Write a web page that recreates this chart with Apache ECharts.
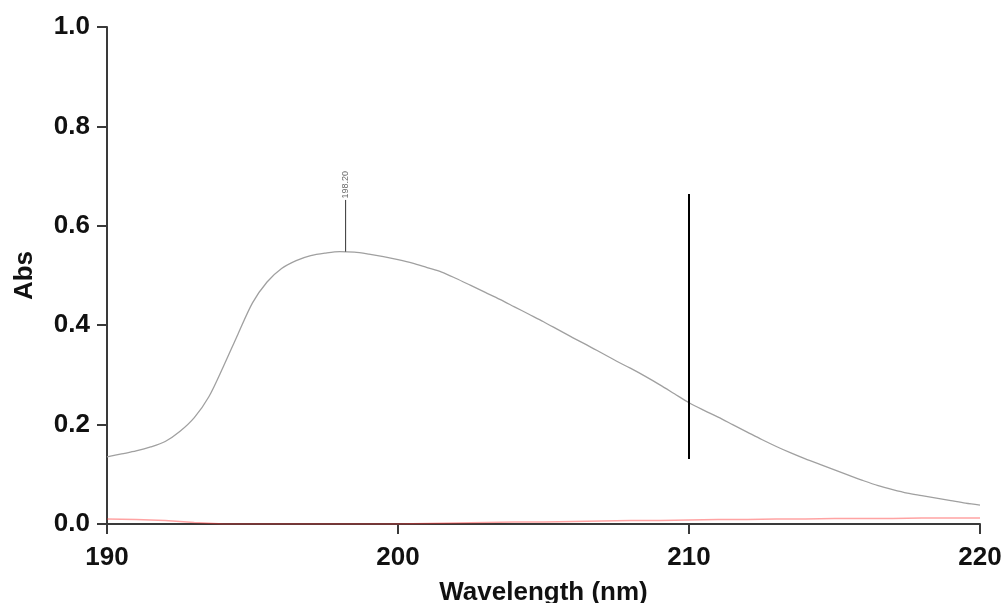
<!DOCTYPE html>
<html>
<head>
<meta charset="utf-8">
<title>Absorbance spectrum</title>
<script src="https://cdn.jsdelivr.net/npm/echarts@6/dist/echarts.min.js"></script>
<style>
  html, body { margin: 0; padding: 0; background: #fff; overflow: hidden; }
  #chart { position: absolute; left: 0; top: 0; width: 1006px; height: 603px; }
</style>
</head>
<body>
<div id="chart"></div>
<script>
// Sample spectrum: wavelength (nm) and absorbance
const wavelengths = [190.0, 190.5, 191.0, 191.5, 192.0, 192.5, 193.0, 193.5, 194.0, 194.5,
  195.0, 195.5, 196.0, 196.5, 197.0, 197.5, 198.0, 198.5, 199.0, 199.5,
  200.0, 200.5, 201.0, 201.5, 202.0, 202.5, 203.0, 203.5, 204.0, 204.5,
  205.0, 205.5, 206.0, 206.5, 207.0, 207.5, 208.0, 208.5, 209.0, 209.5,
  210.0, 210.5, 211.0, 211.5, 212.0, 212.5, 213.0, 213.5, 214.0, 214.5,
  215.0, 215.5, 216.0, 216.5, 217.0, 217.5, 218.0, 218.5, 219.0, 219.5, 220.0];
const sampleAbs = [0.135, 0.141, 0.147, 0.155, 0.166, 0.186, 0.214, 0.256, 0.317, 0.382,
  0.445, 0.487, 0.514, 0.530, 0.540, 0.545, 0.548, 0.547, 0.543, 0.538,
  0.532, 0.525, 0.516, 0.507, 0.494, 0.480, 0.466, 0.452, 0.437, 0.422,
  0.407, 0.391, 0.375, 0.360, 0.344, 0.328, 0.313, 0.297, 0.280, 0.262,
  0.244, 0.229, 0.215, 0.200, 0.185, 0.170, 0.156, 0.143, 0.131, 0.120,
  0.109, 0.098, 0.087, 0.077, 0.069, 0.062, 0.057, 0.052, 0.047, 0.042, 0.038];

// Baseline (blank) trace
const baseWavelengths = [190, 191, 192, 192.5, 193, 194, 195, 196, 197, 198, 199, 200,
  201, 202, 203, 204, 205, 206, 207, 208, 209, 210,
  211, 212, 213, 214, 215, 216, 217, 218, 219, 220];
const baseAbs = [0.010, 0.009, 0.007, 0.005, 0.003, 0.000, 0.000, 0.000, 0.000, 0.000, 0.000, 0.000,
  0.001, 0.002, 0.003, 0.004, 0.004, 0.005, 0.006, 0.007, 0.007, 0.008,
  0.009, 0.009, 0.010, 0.010, 0.011, 0.011, 0.011, 0.012, 0.012, 0.012];

// Peak pick
const peakWavelength = 198.20;
const peakAbs = 0.548;
const peakMarkerTop = 0.652;

// Cursor line
const cursorWavelength = 210;
const cursorRange = [0.131, 0.664];

// Axis ticks
const xTicks = [190, 200, 210, 220];
const yTicks = [0.0, 0.2, 0.4, 0.6, 0.8, 1.0];

const zip = (xs, ys) => xs.map((x, i) => [x, ys[i]]);

const axisColor = '#3a3a3a';
const fontFamily = '"Liberation Sans", Arial, sans-serif';

const chart = echarts.init(document.getElementById('chart'), null, {
  renderer: 'canvas', width: 1006, height: 603
});
chart.setOption({
  animation: false,
  backgroundColor: '#ffffff',
  grid: { left: 107, right: 26, top: 27, bottom: 79, outerBoundsMode: 'none', containLabel: false },
  xAxis: {
    type: 'value',
    min: xTicks[0],
    max: xTicks[xTicks.length - 1],
    interval: 10,
    name: 'Wavelength (nm)',
    nameLocation: 'middle',
    nameGap: 56,
    nameTextStyle: { fontFamily, fontWeight: 'bold', fontSize: 26, color: '#111' },
    axisLine: { lineStyle: { color: axisColor, width: 2 } },
    axisTick: { show: true, length: 10, lineStyle: { color: axisColor, width: 2 } },
    axisLabel: { margin: 21, fontFamily, fontWeight: 'bold', fontSize: 26, color: '#111' },
    splitLine: { show: false }
  },
  yAxis: {
    type: 'value',
    min: yTicks[0],
    max: yTicks[yTicks.length - 1],
    interval: 0.2,
    name: 'Abs',
    nameLocation: 'middle',
    nameGap: 69,
    nameTextStyle: { fontFamily, fontWeight: 'bold', fontSize: 26, color: '#111' },
    axisLine: { show: true, lineStyle: { color: axisColor, width: 2 } },
    axisTick: { show: true, length: 10, lineStyle: { color: axisColor, width: 2 } },
    axisLabel: {
      margin: 17, fontFamily, fontWeight: 'bold', fontSize: 26, color: '#111',
      formatter: v => v.toFixed(1)
    },
    splitLine: { show: false }
  },
  series: [
    {
      name: 'Baseline',
      type: 'line',
      data: zip(baseWavelengths, baseAbs),
      symbol: 'none',
      z: 3,
      lineStyle: { color: 'rgba(255,50,50,0.45)', width: 1.5 }
    },
    {
      name: 'Sample',
      type: 'line',
      data: zip(wavelengths, sampleAbs),
      smooth: 0.3,
      symbol: 'none',
      z: 4,
      lineStyle: { color: '#a0a0a0', width: 1.3 }
    },
    {
      name: 'Peak',
      type: 'line',
      data: [[peakWavelength, peakAbs], [peakWavelength, peakMarkerTop]],
      symbol: 'none',
      z: 5,
      lineStyle: { color: '#333', width: 1 }
    },
    {
      name: 'Peak label',
      type: 'scatter',
      data: [[peakWavelength, peakMarkerTop]],
      symbolSize: 1,
      itemStyle: { color: 'rgba(0,0,0,0)' },
      z: 6,
      label: {
        show: true,
        formatter: peakWavelength.toFixed(2),
        position: 'top',
        distance: 1,
        rotate: 90,
        align: 'left',
        verticalAlign: 'middle',
        fontFamily,
        fontSize: 9,
        color: '#444'
      }
    },
    {
      name: 'Cursor',
      type: 'line',
      data: [[cursorWavelength, cursorRange[0]], [cursorWavelength, cursorRange[1]]],
      symbol: 'none',
      z: 7,
      lineStyle: { color: '#000', width: 2 }
    }
  ]
});
</script>
</body>
</html>
